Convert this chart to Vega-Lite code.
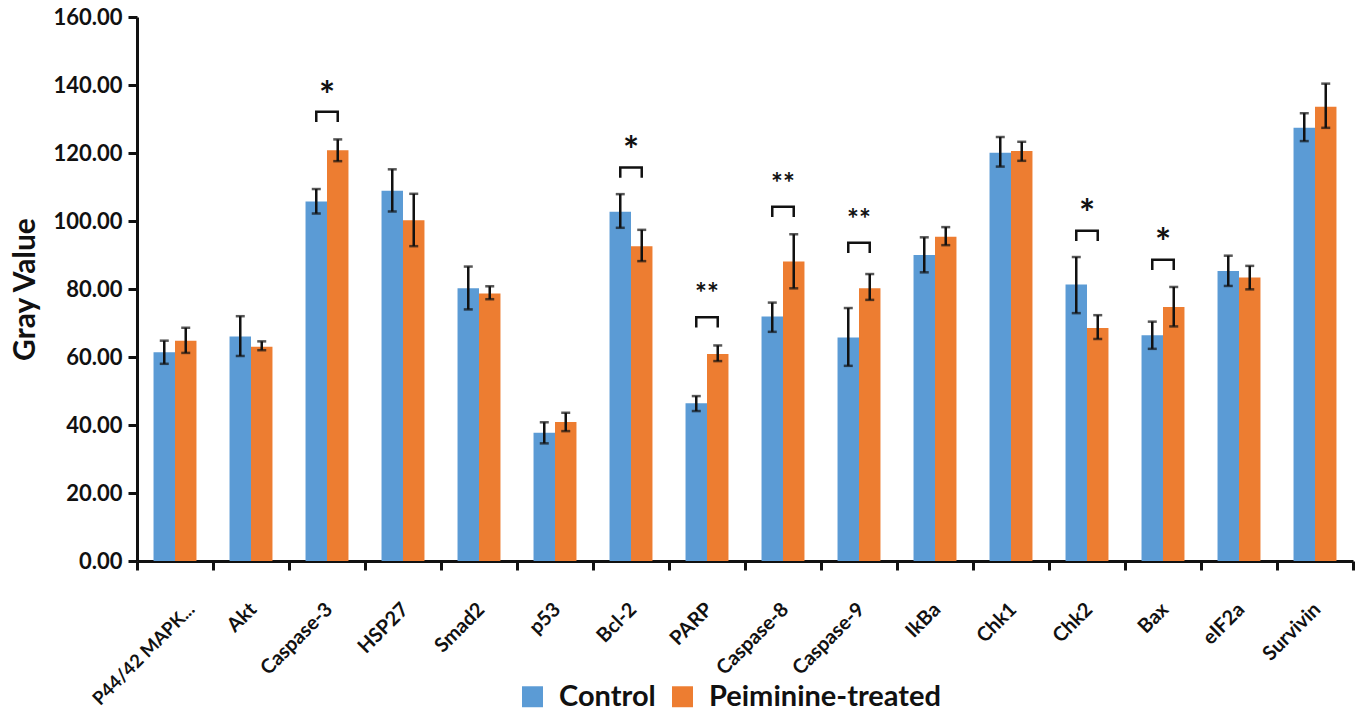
{
  "$schema": "https://vega.github.io/schema/vega-lite/v6.json",
  "width": 1216,
  "height": 544,
  "autosize": {"type": "none"},
  "padding": {"left": 137, "top": 17, "right": 9, "bottom": 152},
  "background": "white",
  "config": {
    "view": {"stroke": null},
    "font": "Lato",
    "axis": {"labelFont": "Lato", "titleFont": "Lato", "labelColor": "#111", "titleColor": "#111"}
  },
  "datasets": {
    "bars": [
      {"cat": "P44/42 MAPK...", "grp": "Control", "v": 61.4, "lo": 58.0, "hi": 64.8},
      {"cat": "P44/42 MAPK...", "grp": "Peiminine-treated", "v": 64.8, "lo": 61.2, "hi": 68.6},
      {"cat": "Akt", "grp": "Control", "v": 66.0, "lo": 60.3, "hi": 72.0},
      {"cat": "Akt", "grp": "Peiminine-treated", "v": 63.0, "lo": 62.0, "hi": 64.6},
      {"cat": "Caspase-3", "grp": "Control", "v": 105.7, "lo": 102.2, "hi": 109.4},
      {"cat": "Caspase-3", "grp": "Peiminine-treated", "v": 120.8, "lo": 117.6, "hi": 124.0},
      {"cat": "HSP27", "grp": "Control", "v": 108.9, "lo": 102.8, "hi": 115.2},
      {"cat": "HSP27", "grp": "Peiminine-treated", "v": 100.2, "lo": 92.6, "hi": 108.0},
      {"cat": "Smad2", "grp": "Control", "v": 80.2, "lo": 74.0, "hi": 86.6},
      {"cat": "Smad2", "grp": "Peiminine-treated", "v": 78.7, "lo": 77.0, "hi": 80.8},
      {"cat": "p53", "grp": "Control", "v": 37.7, "lo": 34.6, "hi": 40.8},
      {"cat": "p53", "grp": "Peiminine-treated", "v": 40.9, "lo": 38.2, "hi": 43.6},
      {"cat": "Bcl-2", "grp": "Control", "v": 102.7, "lo": 98.0, "hi": 107.9},
      {"cat": "Bcl-2", "grp": "Peiminine-treated", "v": 92.6, "lo": 88.2, "hi": 97.4},
      {"cat": "PARP", "grp": "Control", "v": 46.4, "lo": 44.1, "hi": 48.5},
      {"cat": "PARP", "grp": "Peiminine-treated", "v": 60.9, "lo": 58.8, "hi": 63.4},
      {"cat": "Caspase-8", "grp": "Control", "v": 71.9, "lo": 67.4, "hi": 76.0},
      {"cat": "Caspase-8", "grp": "Peiminine-treated", "v": 88.1, "lo": 80.2, "hi": 96.1},
      {"cat": "Caspase-9", "grp": "Control", "v": 65.7, "lo": 57.4, "hi": 74.4},
      {"cat": "Caspase-9", "grp": "Peiminine-treated", "v": 80.2, "lo": 76.8, "hi": 84.4},
      {"cat": "IkBa", "grp": "Control", "v": 90.0, "lo": 84.9, "hi": 95.2},
      {"cat": "IkBa", "grp": "Peiminine-treated", "v": 95.4, "lo": 92.9, "hi": 98.2},
      {"cat": "Chk1", "grp": "Control", "v": 120.1, "lo": 116.0, "hi": 124.7},
      {"cat": "Chk1", "grp": "Peiminine-treated", "v": 120.6, "lo": 117.7, "hi": 123.3},
      {"cat": "Chk2", "grp": "Control", "v": 81.3, "lo": 72.9, "hi": 89.4},
      {"cat": "Chk2", "grp": "Peiminine-treated", "v": 68.5, "lo": 65.3, "hi": 72.3},
      {"cat": "Bax", "grp": "Control", "v": 66.4, "lo": 62.4, "hi": 70.4},
      {"cat": "Bax", "grp": "Peiminine-treated", "v": 74.7, "lo": 69.0, "hi": 80.6},
      {"cat": "eIF2a", "grp": "Control", "v": 85.3, "lo": 80.9, "hi": 89.8},
      {"cat": "eIF2a", "grp": "Peiminine-treated", "v": 83.4, "lo": 79.9, "hi": 86.8},
      {"cat": "Survivin", "grp": "Control", "v": 127.4, "lo": 123.5, "hi": 131.7},
      {"cat": "Survivin", "grp": "Peiminine-treated", "v": 133.6, "lo": 127.4, "hi": 140.4}
    ],
    "brackets": [
      {"cat": "Caspase-3", "grp": "Control", "y": 129.1, "ord": 1},
      {"cat": "Caspase-3", "grp": "Control", "y": 132.1, "ord": 2},
      {"cat": "Caspase-3", "grp": "Peiminine-treated", "y": 132.1, "ord": 3},
      {"cat": "Caspase-3", "grp": "Peiminine-treated", "y": 129.1, "ord": 4},
      {"cat": "Bcl-2", "grp": "Control", "y": 112.7, "ord": 1},
      {"cat": "Bcl-2", "grp": "Control", "y": 115.7, "ord": 2},
      {"cat": "Bcl-2", "grp": "Peiminine-treated", "y": 115.7, "ord": 3},
      {"cat": "Bcl-2", "grp": "Peiminine-treated", "y": 112.7, "ord": 4},
      {"cat": "PARP", "grp": "Control", "y": 68.7, "ord": 1},
      {"cat": "PARP", "grp": "Control", "y": 71.7, "ord": 2},
      {"cat": "PARP", "grp": "Peiminine-treated", "y": 71.7, "ord": 3},
      {"cat": "PARP", "grp": "Peiminine-treated", "y": 68.7, "ord": 4},
      {"cat": "Caspase-8", "grp": "Control", "y": 101.2, "ord": 1},
      {"cat": "Caspase-8", "grp": "Control", "y": 104.2, "ord": 2},
      {"cat": "Caspase-8", "grp": "Peiminine-treated", "y": 104.2, "ord": 3},
      {"cat": "Caspase-8", "grp": "Peiminine-treated", "y": 101.2, "ord": 4},
      {"cat": "Caspase-9", "grp": "Control", "y": 90.6, "ord": 1},
      {"cat": "Caspase-9", "grp": "Control", "y": 93.6, "ord": 2},
      {"cat": "Caspase-9", "grp": "Peiminine-treated", "y": 93.6, "ord": 3},
      {"cat": "Caspase-9", "grp": "Peiminine-treated", "y": 90.6, "ord": 4},
      {"cat": "Chk2", "grp": "Control", "y": 94.1, "ord": 1},
      {"cat": "Chk2", "grp": "Control", "y": 97.1, "ord": 2},
      {"cat": "Chk2", "grp": "Peiminine-treated", "y": 97.1, "ord": 3},
      {"cat": "Chk2", "grp": "Peiminine-treated", "y": 94.1, "ord": 4},
      {"cat": "Bax", "grp": "Control", "y": 85.6, "ord": 1},
      {"cat": "Bax", "grp": "Control", "y": 88.6, "ord": 2},
      {"cat": "Bax", "grp": "Peiminine-treated", "y": 88.6, "ord": 3},
      {"cat": "Bax", "grp": "Peiminine-treated", "y": 85.6, "ord": 4}
    ],
    "stars": [
      {"cat": "Caspase-3", "sig": "*", "y": 139.1},
      {"cat": "Bcl-2", "sig": "*", "y": 123.0},
      {"cat": "PARP", "sig": "**", "y": 80.2},
      {"cat": "Caspase-8", "sig": "**", "y": 112.7},
      {"cat": "Caspase-9", "sig": "**", "y": 102.1},
      {"cat": "Chk2", "sig": "*", "y": 104.4},
      {"cat": "Bax", "sig": "*", "y": 95.9}
    ]
  },
  "encoding": {
    "x": {
      "field": "cat", "type": "nominal", "sort": null, "title": null,
      "scale": {"paddingInner": 0, "paddingOuter": 0},
      "axis": {
        "labelAngle": -45, "labelAlign": "right", "labelBaseline": "middle",
        "labelFontSize": {"condition": {"test": "datum.value === 'P44/42 MAPK...'", "value": 18.5}, "value": 20},
        "labelOffset": {"condition": {"test": "datum.value === 'P44/42 MAPK...'", "value": 16}, "value": 2},
        "labelFontWeight": "bold", "labelPadding": 36,
        "tickBand": "extent", "tickSize": 9, "tickWidth": 3, "tickColor": "#111",
        "domainColor": "#111", "domainWidth": 3, "labelLimit": 300
      }
    }
  },
  "layer": [
    {
      "data": {"name": "bars"},
      "mark": {"type": "bar"},
      "encoding": {
        "xOffset": {"field": "grp", "type": "nominal", "scale": {"paddingOuter": 0.77, "paddingInner": 0}},
        "y": {
          "field": "v", "type": "quantitative", "title": "Gray Value",
          "scale": {"domain": [0, 160], "nice": false},
          "axis": {
            "values": [0, 20, 40, 60, 80, 100, 120, 140, 160], "format": ".2f",
            "grid": false, "labelFontSize": 22, "labelFontWeight": "bold",
            "labelPadding": 6, "tickSize": 9, "tickWidth": 3, "tickColor": "#111",
            "domainColor": "#111", "domainWidth": 3,
            "titleFontSize": 30, "titleFontWeight": "bold", "titlePadding": 12
          }
        },
        "color": {
          "field": "grp", "type": "nominal",
          "scale": {"domain": ["Control", "Peiminine-treated"], "range": ["#5B9BD5", "#ED7D31"]},
          "legend": {
            "title": null, "orient": "none", "legendX": 381, "legendY": 665,
            "direction": "horizontal", "symbolType": "square", "symbolSize": 440,
            "symbolStrokeWidth": 0, "labelFontSize": 29, "labelFont": "Lato",
            "labelFontWeight": "bold", "labelColor": "#111", "labelOffset": 12,
            "columnPadding": 12, "labelLimit": 400
          }
        }
      }
    },
    {
      "data": {"name": "bars"},
      "mark": {"type": "rule", "color": "#111", "strokeWidth": 2.5},
      "encoding": {
        "xOffset": {"field": "grp", "type": "nominal"},
        "y": {"field": "lo", "type": "quantitative"},
        "y2": {"field": "hi"}
      }
    },
    {
      "data": {"name": "bars"},
      "mark": {"type": "tick", "color": "#111", "thickness": 2.5, "size": 9},
      "encoding": {
        "xOffset": {"field": "grp", "type": "nominal"},
        "y": {"field": "lo", "type": "quantitative"}
      }
    },
    {
      "data": {"name": "bars"},
      "mark": {"type": "tick", "color": "#111", "thickness": 2.5, "size": 9},
      "encoding": {
        "xOffset": {"field": "grp", "type": "nominal"},
        "y": {"field": "hi", "type": "quantitative"}
      }
    },
    {
      "data": {"name": "brackets"},
      "mark": {"type": "line", "color": "#111", "strokeWidth": 2.5, "strokeJoin": "miter"},
      "encoding": {
        "xOffset": {"field": "grp", "type": "nominal"},
        "y": {"field": "y", "type": "quantitative"},
        "detail": {"field": "cat"},
        "order": {"field": "ord", "type": "quantitative"}
      }
    },
    {
      "data": {"name": "stars"},
      "transform": [{"filter": "datum.sig === '*'"}],
      "mark": {"type": "text", "font": "Lato", "fontWeight": "bold", "fontSize": 38, "color": "#111", "baseline": "middle", "dy": 10},
      "encoding": {
        "y": {"field": "y", "type": "quantitative"},
        "text": {"field": "sig"}
      }
    },
    {
      "data": {"name": "stars"},
      "transform": [{"filter": "datum.sig === '**'"}],
      "mark": {"type": "text", "font": "Lato", "fontWeight": "bold", "fontSize": 28, "color": "#111", "baseline": "middle", "dy": 7},
      "encoding": {
        "y": {"field": "y", "type": "quantitative"},
        "text": {"field": "sig"}
      }
    }
  ]
}
